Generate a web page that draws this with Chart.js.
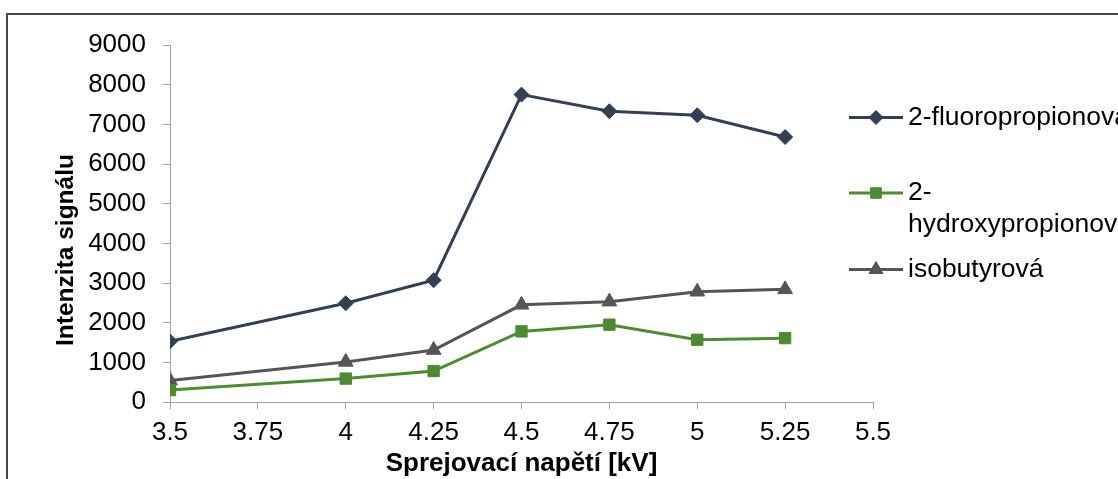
<!DOCTYPE html>
<html lang="cs">
<head>
<meta charset="utf-8">
<title>Intenzita signálu vs. sprejovací napětí</title>
<script src="https://cdn.jsdelivr.net/npm/chart.js@4.4.1/dist/chart.umd.min.js"></script>
<style>
  html, body { margin: 0; padding: 0; background: #ffffff; }
  #wrap { position: relative; width: 1118px; height: 479px; overflow: hidden; }
  canvas { display: block; }
</style>
</head>
<body>
<div id="wrap"><canvas id="chart" width="1118" height="479"></canvas></div>
<script>
// Spray voltage [kV]
const voltages = [3.5, 4, 4.25, 4.5, 4.75, 5, 5.25];

// Signal intensity per acid
const fluoropropionic = [1530, 2490, 3070, 7750, 7330, 7230, 6680];
const hydroxypropionic = [300, 590, 780, 1780, 1950, 1570, 1610];
const isobutyric = [540, 1010, 1310, 2450, 2530, 2780, 2840];

// Series names (legend)
const seriesNames = ['2-fluoropropionová', '2-hydroxypropionová', 'isobutyrová'];
const legendLines = [['2-fluoropropionová'], ['2-', 'hydroxypropionová'], ['isobutyrová']];

// Axis ticks and titles
const xTicks = [3.5, 3.75, 4, 4.25, 4.5, 4.75, 5, 5.25, 5.5];
const xTickLabels = ['3.5', '3.75', '4', '4.25', '4.5', '4.75', '5', '5.25', '5.5'];
const yTicks = [0, 1000, 2000, 3000, 4000, 5000, 6000, 7000, 8000, 9000];
const yTickLabels = ['0', '1000', '2000', '3000', '4000', '5000', '6000', '7000', '8000', '9000'];
const xTitle = 'Sprejovací napětí [kV]';
const yTitle = 'Intenzita signálu';

const FONT = '"Liberation Sans", Arial, sans-serif';
const AXIS_GREY = '#a0a0a0';

const styles = [
  { color: '#323f54', point: 'rectRot', radius: 7.5, legendRadius: 7 },
  { color: '#4e8a32', point: 'rect', radius: 8, legendRadius: 7.5 },
  { color: '#555555', point: 'triangle', radius: 8.5, legendRadius: 8 }
];

const toPoints = (ys) => voltages.map((x, i) => ({ x, y: ys[i] }));
const seriesValues = [fluoropropionic, hydroxypropionic, isobutyric];

const datasets = seriesValues.map((vals, i) => ({
  label: seriesNames[i],
  data: toPoints(vals),
  showLine: true,
  borderColor: styles[i].color,
  backgroundColor: styles[i].color,
  borderWidth: 3,
  pointStyle: styles[i].point,
  pointRadius: styles[i].radius,
  pointHoverRadius: styles[i].radius,
  pointBorderWidth: 1,
  pointBorderColor: styles[i].color,
  pointBackgroundColor: styles[i].color,
  tension: 0
}));

// Outer frame, axis titles and the right-hand legend
const decorations = {
  id: 'decorations',
  beforeDraw(chart) {
    const { ctx, width, height } = chart;
    ctx.save();
    ctx.fillStyle = '#ffffff';
    ctx.fillRect(0, 0, width, height);
    ctx.strokeStyle = '#474747';
    ctx.lineWidth = 2;
    ctx.strokeRect(7, 14, width + 20, height + 20);
    ctx.restore();
  },
  afterDraw(chart) {
    const { ctx, chartArea } = chart;
    ctx.save();
    ctx.fillStyle = '#000000';

    // x axis title
    ctx.font = 'bold 26px ' + FONT;
    ctx.textAlign = 'center';
    ctx.textBaseline = 'alphabetic';
    ctx.fillText(xTitle, (chartArea.left + chartArea.right) / 2, 471);

    // y axis title
    ctx.save();
    ctx.translate(73, 250);
    ctx.rotate(-Math.PI / 2);
    ctx.font = 'bold 24.5px ' + FONT;
    ctx.fillText(yTitle, 0, 0);
    ctx.restore();

    // legend
    const rows = [117.5, 193, 269.5];
    const lineGap = 32;
    ctx.font = '26.5px ' + FONT;
    ctx.textAlign = 'left';
    ctx.textBaseline = 'middle';
    chart.data.datasets.forEach((ds, i) => {
      const y = rows[i];
      ctx.strokeStyle = ds.borderColor;
      ctx.lineWidth = 3;
      ctx.beginPath();
      ctx.moveTo(849, y);
      ctx.lineTo(903, y);
      ctx.stroke();
      ctx.fillStyle = ds.pointBackgroundColor;
      ctx.strokeStyle = ds.pointBorderColor;
      ctx.lineWidth = 1;
      Chart.helpers.drawPoint(ctx, {
        pointStyle: ds.pointStyle,
        rotation: 0,
        radius: styles[i].legendRadius,
        borderWidth: 1
      }, 876, y);
      ctx.fillStyle = '#000000';
      legendLines[i].forEach((txt, k) => ctx.fillText(txt, 908, y + k * lineGap));
    });
    ctx.restore();
  }
};

new Chart(document.getElementById('chart'), {
  type: 'scatter',
  data: { datasets },
  options: {
    responsive: false,
    animation: false,
    devicePixelRatio: 1,
    layout: { padding: { top: 45, right: 245, left: 0, bottom: 0 } },
    plugins: {
      legend: { display: false },
      tooltip: { enabled: false },
      title: { display: false }
    },
    scales: {
      x: {
        type: 'linear',
        min: 3.5,
        max: 5.5,
        afterBuildTicks(scale) { scale.ticks = xTicks.map(v => ({ value: v })); },
        afterFit(scale) { scale.height = 77; },
        ticks: {
          padding: 8,
          color: '#000000',
          font: { family: FONT, size: 26 },
          maxRotation: 0,
          autoSkip: false,
          callback: (v) => xTickLabels[xTicks.indexOf(v)]
        },
        grid: {
          display: true,
          drawOnChartArea: false,
          drawTicks: true,
          tickLength: 7,
          color: AXIS_GREY,
          lineWidth: 1
        },
        border: { display: true, color: AXIS_GREY, width: 1 },
        title: { display: false }
      },
      y: {
        type: 'linear',
        min: 0,
        max: 9000,
        afterBuildTicks(scale) { scale.ticks = yTicks.map(v => ({ value: v })); },
        afterFit(scale) { scale.width = 170; },
        ticks: {
          padding: 17,
          color: '#000000',
          font: { family: FONT, size: 26 },
          autoSkip: false,
          callback: (v) => yTickLabels[yTicks.indexOf(v)]
        },
        grid: {
          display: true,
          drawOnChartArea: false,
          drawTicks: true,
          tickLength: 7,
          color: AXIS_GREY,
          lineWidth: 1
        },
        border: { display: true, color: AXIS_GREY, width: 1 },
        title: { display: false }
      }
    }
  },
  plugins: [decorations]
});
</script>
</body>
</html>
